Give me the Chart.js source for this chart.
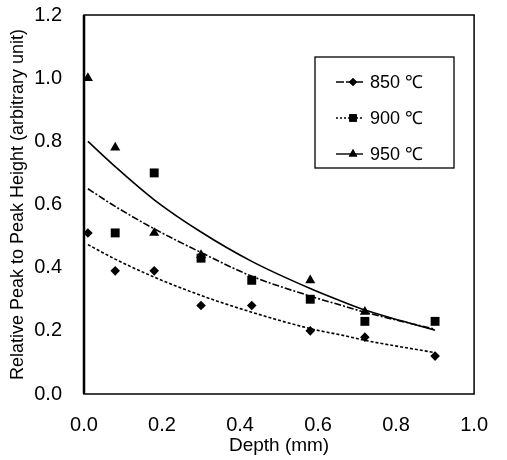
<!DOCTYPE html>
<html lang="en">
<head>
  <meta charset="UTF-8">
  <title>Relative Peak to Peak Height vs Depth</title>
  <style>
    html, body {
      margin: 0;
      padding: 0;
      background: #fff;
      overflow: hidden;
    }

    #wrap {
      width: 507px;
      height: 460px;
    }

    canvas {
      display: block;
    }
  </style>
</head>
<body>
  <div id="wrap"><canvas id="depthChart"></canvas></div>

  <script src="https://cdn.jsdelivr.net/npm/chart.js"></script>
  <script>
    const depths = [0.01, 0.08, 0.18, 0.30, 0.43, 0.58, 0.72, 0.90];
    const pts850 = [0.51, 0.39, 0.39, 0.28, 0.28, 0.20, 0.18, 0.12];
    const pts900 = [null, 0.51, 0.70, 0.43, 0.36, 0.30, 0.23, 0.23];
    const pts950 = [1.00, 0.78, 0.51, 0.44, null, 0.36, 0.26, null];

    // fitted curves, sampled along the drawn lines
    const fitDepths = [0.01, 0.08, 0.18, 0.30, 0.43, 0.58, 0.67, 0.72, 0.90];
    const fit850 = [0.473, 0.427, 0.370, 0.312, 0.259, 0.207, 0.184, 0.170, 0.131];
    const fit900 = [0.650, 0.594, 0.523, 0.448, 0.373, 0.310, 0.277, 0.259, 0.205];
    const fit950 = [0.800, 0.720, 0.615, 0.513, 0.420, 0.334, 0.289, 0.266, 0.202];

    const seriesLabels = ['850 \u2103', '900 \u2103', '950 \u2103'];
    const yTicks = [0, 0.2, 0.4, 0.6, 0.8, 1.0, 1.2];
    const xTicks = [0, 0.2, 0.4, 0.6, 0.8, 1.0];

    const FONT = "'Liberation Sans', Arial, sans-serif";

    function toXY(xs, ys) {
      const out = [];
      xs.forEach((x, i) => {
        if (ys[i] !== null) out.push({ x: x, y: ys[i] });
      });
      return out;
    }

    function pointSet(label, ys, style, radius) {
      return {
        label: label,
        data: toXY(depths, ys),
        showLine: false,
        pointStyle: style,
        pointRadius: radius,
        pointBackgroundColor: '#000',
        pointBorderColor: '#000',
        pointBorderWidth: 0
      };
    }

    function fitSet(ys, dash) {
      return {
        label: 'fit',
        data: toXY(fitDepths, ys),
        showLine: true,
        pointRadius: 0,
        borderColor: '#000',
        borderWidth: 1.6,
        borderDash: dash,
        cubicInterpolationMode: 'monotone',
        fill: false
      };
    }

    const markerStyles = ['rectRot', 'rect', 'triangle'];
    const markerSizes = [4.8, 6.3, 5.8];
    const legendDash = [[8, 2], [2, 2], []];

    // box around the plot area
    const framePlugin = {
      id: 'frame',
      afterDraw(chart) {
        const a = chart.chartArea;
        const ctx = chart.ctx;
        ctx.save();
        ctx.strokeStyle = '#000';
        ctx.lineWidth = 1.5;
        ctx.strokeRect(a.left, a.top, a.right - a.left, a.bottom - a.top);
        ctx.lineWidth = 2.5;
        ctx.beginPath();
        ctx.moveTo(a.left, a.top);
        ctx.lineTo(a.left, a.bottom);
        ctx.stroke();
        ctx.restore();
      }
    };

    // legend box drawn inside the plot, upper right
    const legendPlugin = {
      id: 'boxLegend',
      afterDraw(chart) {
        const ctx = chart.ctx;
        const bx = 315, by = 57, bw = 139, bh = 111;
        ctx.save();
        ctx.fillStyle = '#fff';
        ctx.fillRect(bx, by, bw, bh);
        ctx.strokeStyle = '#000';
        ctx.lineWidth = 1.3;
        ctx.strokeRect(bx, by, bw, bh);
        ctx.font = '18px ' + FONT;
        ctx.textBaseline = 'middle';
        for (let i = 0; i < 3; i++) {
          const ds = chart.data.datasets[i];
          const cy = by + 25 + i * 36;
          ctx.setLineDash(legendDash[i]);
          ctx.lineWidth = 1.4;
          ctx.beginPath();
          ctx.moveTo(bx + 21, cy);
          ctx.lineTo(bx + 48, cy);
          ctx.stroke();
          ctx.setLineDash([]);
          ctx.fillStyle = '#000';
          Chart.helpers.drawPoint(ctx, {
            pointStyle: ds.pointStyle,
            radius: ds.pointRadius * 0.85,
            borderWidth: 0
          }, bx + 38, cy);
          ctx.fill();
          ctx.fillText(ds.label, bx + 55, cy + 1);
        }
        ctx.restore();
      }
    };

    const datasets = [
      pointSet(seriesLabels[0], pts850, markerStyles[0], markerSizes[0]),
      pointSet(seriesLabels[1], pts900, markerStyles[1], markerSizes[1]),
      pointSet(seriesLabels[2], pts950, markerStyles[2], markerSizes[2]),
      fitSet(fit850, [3, 2]),
      fitSet(fit900, [7, 2, 2, 2]),
      fitSet(fit950, [])
    ];

    const ctx = document.getElementById('depthChart').getContext('2d');
    new Chart(ctx, {
      type: 'scatter',
      data: { datasets: datasets },
      options: {
        responsive: true,
        maintainAspectRatio: false,
        animation: false,
        layout: {
          padding: { left: 0, right: 22, top: 15, bottom: 0 }
        },
        plugins: {
          legend: { display: false },
          tooltip: { enabled: false }
        },
        scales: {
          x: {
            type: 'linear',
            min: 0,
            max: 1,
            afterBuildTicks(scale) {
              scale.ticks = xTicks.map(v => ({ value: v }));
            },
            afterFit(scale) {
              scale.height = 66;
            },
            grid: { display: false, drawTicks: false },
            border: { display: false },
            ticks: {
              padding: 19,
              color: '#000',
              font: { family: FONT, size: 20 },
              callback: v => Number(v).toFixed(1)
            },
            title: {
              display: true,
              text: 'Depth (mm)',
              color: '#000',
              font: { family: FONT, size: 19 },
              padding: { top: 0, bottom: 3 }
            }
          },
          y: {
            type: 'linear',
            min: 0,
            max: 1.2,
            afterBuildTicks(scale) {
              scale.ticks = yTicks.map(v => ({ value: v }));
            },
            afterFit(scale) {
              scale.width = 84;
              // keep the tick padding from pushing the plot down
              scale.paddingTop = 0;
              scale.paddingBottom = 0;
            },
            grid: { display: false, drawTicks: false },
            border: { display: false },
            ticks: {
              padding: 22,
              color: '#000',
              font: { family: FONT, size: 20 },
              callback: v => Number(v).toFixed(1)
            },
            title: {
              display: true,
              text: 'Relative Peak to Peak Height (arbitrary unit)',
              color: '#000',
              font: { family: FONT, size: 18 },
              padding: { top: 7, bottom: 0 }
            }
          }
        }
      },
      plugins: [framePlugin, legendPlugin]
    });
  </script>
</body>
</html>
